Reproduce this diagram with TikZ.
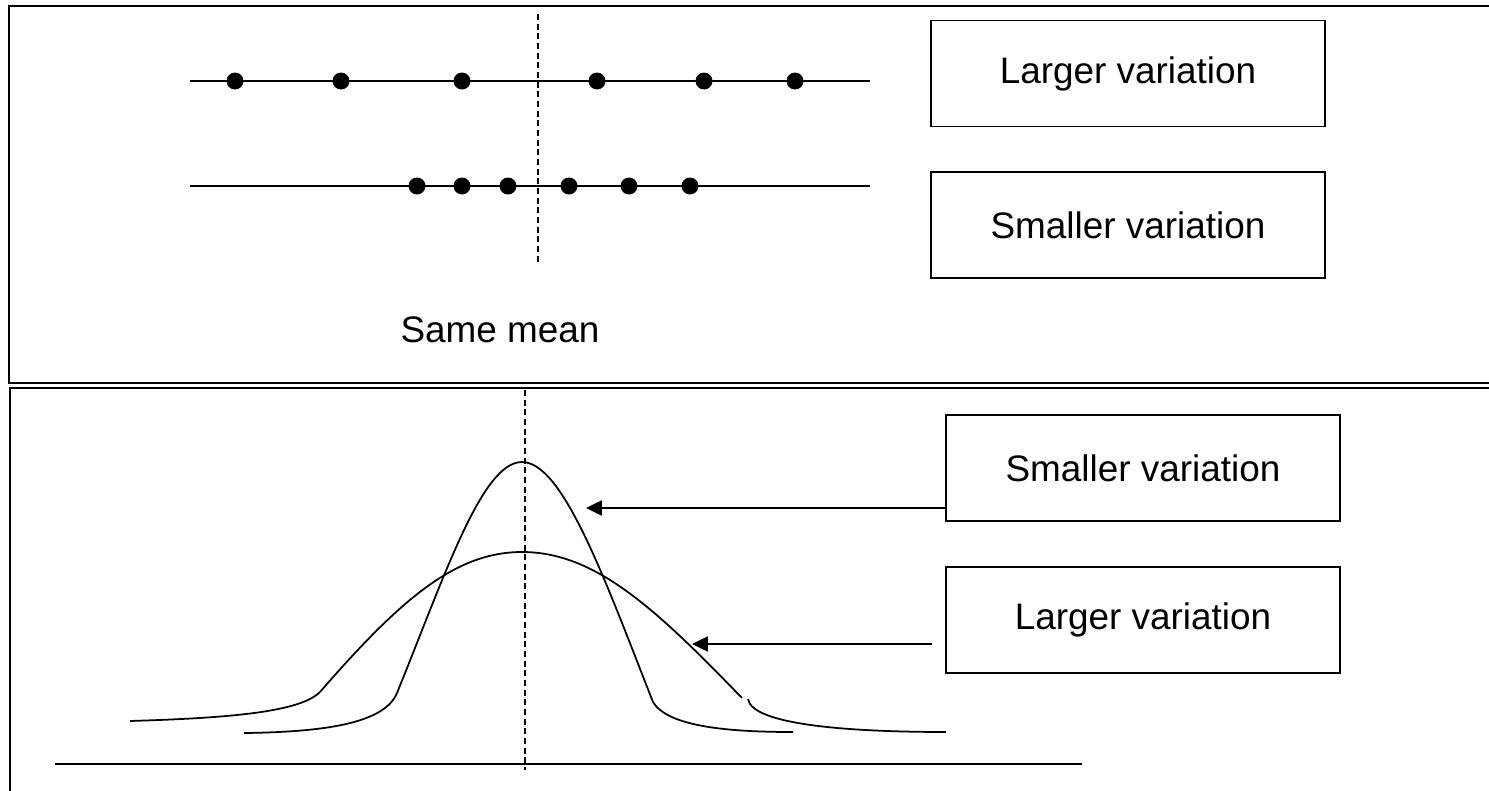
\documentclass[tikz,border=0pt]{standalone}
\usepackage{fontspec}
\setmainfont{Liberation Sans}
\usetikzlibrary{arrows.meta}
\begin{document}
\begin{tikzpicture}[x=0.02cm,y=-0.02cm,
  frame/.style={line width=1.3pt},
  ln/.style={line width=1pt},
  dot/.style={circle,fill=black,inner sep=0pt,minimum size=17*0.02cm},
  label/.style={draw,line width=0.9pt,minimum width=394*0.02cm,minimum height=106*0.02cm,inner sep=0pt,font=\fontsize{21}{25}\selectfont},
  plain/.style={font=\fontsize{21}{25}\selectfont,inner sep=0pt},
  pointer/.style={line width=1.2pt,-{Triangle[length=9pt,width=8.5pt]}},
  meanline/.style={line width=0.8pt,dash pattern=on 3.5pt off 2pt}]
\useasboundingbox (0,0) rectangle (1489,791);
\clip (0,0) rectangle (1489,791);
% frames
\draw[frame] (9,6) rectangle (1520,383);
\draw[frame] (10,388) rectangle (1520,830);

% ---- top panel ----
\draw[ln] (190,81) -- (870,81);
\draw[ln] (190,186) -- (870,186);
\foreach \x [count=\i] in {235,341,462,597,704,795}
  \node[dot] (a\i) at (\x,81) {};
\foreach \x [count=\i] in {417,462,508,569,629,690}
  \node[dot] (b\i) at (\x,186) {};
\draw[meanline] (538,14) -- (538,262);
\node[plain] (same) at (500,330) {Same mean};
\node[label] (tl) at (1128,73.5) {Larger variation};
\node[label] (ts) at (1128,225) {Smaller variation};

% ---- bottom panel ----
\draw[ln] (55,764) -- (1082,764);
\draw[meanline] (525,390) -- (525,770);
% narrow curve
\draw[ln] (397,693) .. controls (445,575) and (482,462) .. (522,462)
  .. controls (563,462) and (605,580) .. (653,702);
\draw[ln] (244,733) .. controls (330,732) and (385,722) .. (397,693);
\draw[ln] (653,702) .. controls (668,727) and (730,732) .. (793,732);
% wide curve
\draw[ln] (320,692) .. controls (400,600) and (455,552) .. (522,552)
  .. controls (595,552) and (655,608) .. (742,698);
\draw[ln] (130,721) .. controls (230,718) and (300,712) .. (320,692);
\draw[ln] (748,699) .. controls (752,725) and (850,732) .. (946,732);

\node[label] (bs) at (1143,468) {Smaller variation};
\node[label] (bl) at (1143,620) {Larger variation};
\coordinate (bstip) at (586,508);
\coordinate (bltip) at (692,644);
\coordinate (blstart) at (932,644);
\draw[pointer] (bs.west |- bstip) -- (bstip);
\draw[pointer] (blstart) -- (bltip);
\end{tikzpicture}
\end{document}
